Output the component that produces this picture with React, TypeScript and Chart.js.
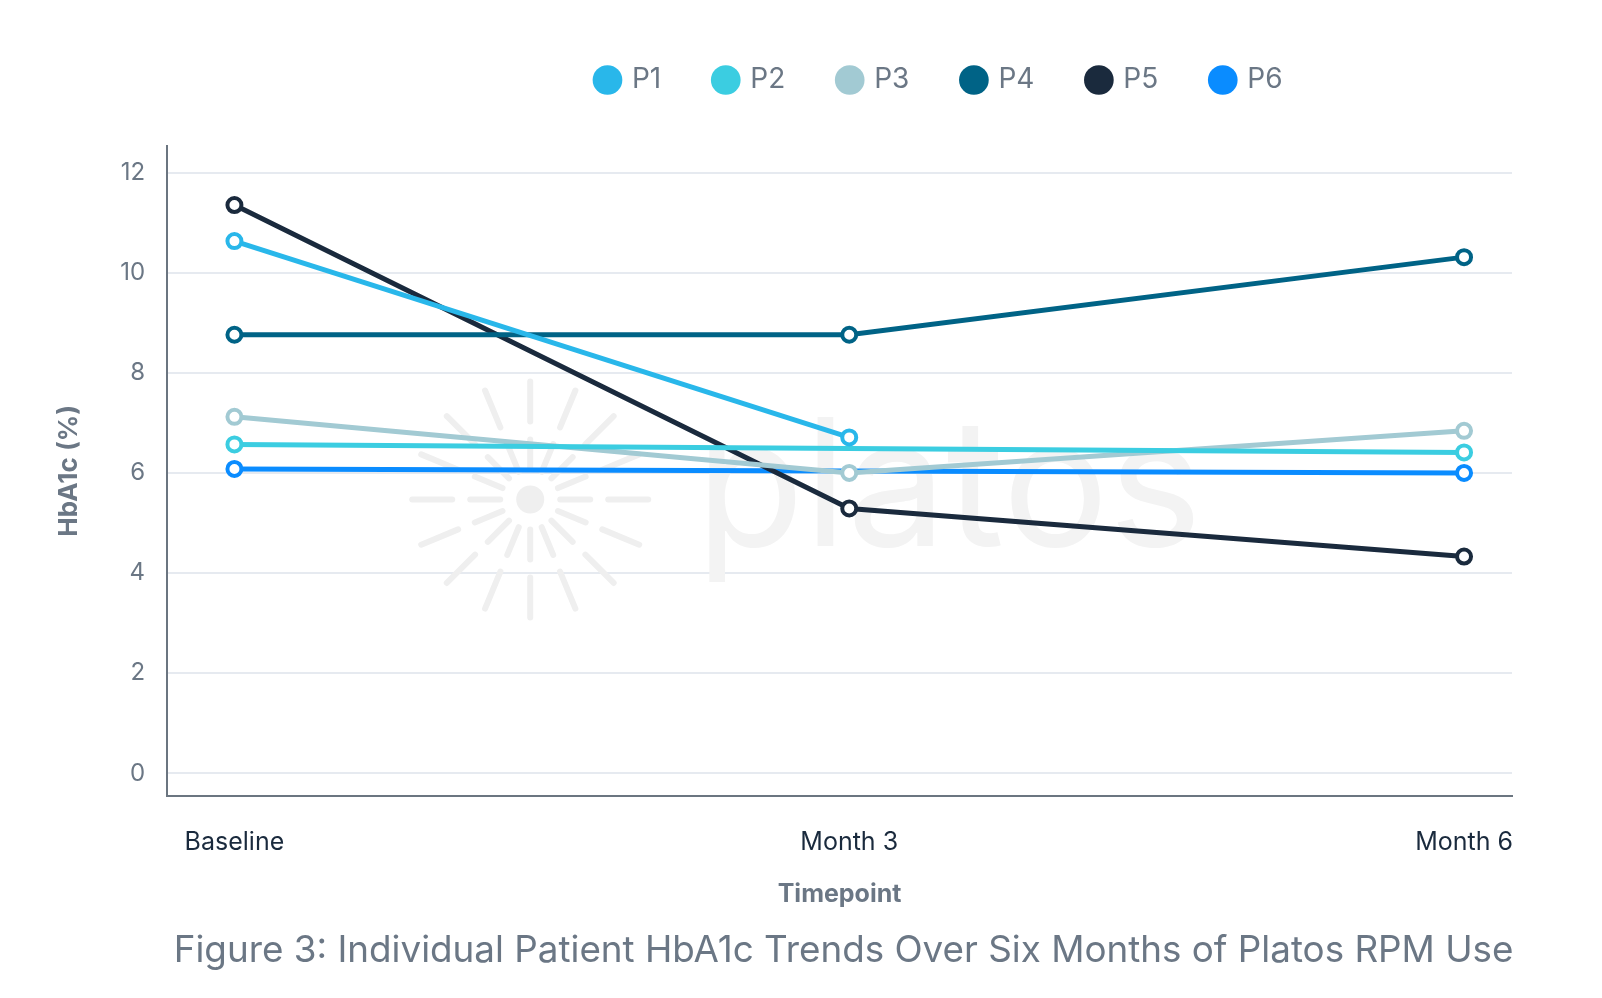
import React, { useEffect, useRef } from "react";
import { Chart, registerables } from "chart.js";

Chart.register(...registerables);

const timepoints = ["Baseline", "Month 3", "Month 6"];
const seriesNames = ["P1", "P2", "P3", "P4", "P5", "P6"];
const p1 = [10.63, 6.71, null];
const p2 = [6.57, null, 6.41];
const p3 = [7.12, 6.0, 6.84];
const p4 = [8.76, 8.76, 10.31];
const p5 = [11.35, 5.29, 4.33];
const p6 = [6.08, null, 6.0];
const seriesValues = [p1, p2, p3, p4, p5, p6];
const seriesColors = ["#29b7ea", "#3bcde1", "#a2cad3", "#006386", "#1a2a3d", "#0a8cff"];
const yTicks = [0, 2, 4, 6, 8, 10, 12];

const FONT = "Inter, 'Open Sans', sans-serif";
const GREY = "#6b7785";

const watermark = {
  id: "watermark",
  beforeDatasetsDraw(chart: any) {
    const { ctx, chartArea } = chart;
    const w = chartArea.right - chartArea.left;
    const h = chartArea.bottom - chartArea.top;
    const cx = chartArea.left + w * 0.27;
    const cy = chartArea.top + h * 0.544;
    ctx.save();
    ctx.strokeStyle = "#efefef";
    ctx.fillStyle = "#efefef";
    ctx.lineWidth = 6;
    ctx.lineCap = "round";
    for (let i = 0; i < 16; i++) {
      const a = (i / 16) * Math.PI * 2;
      const segs = [[30, 60], [78, 118]];
      for (const [r0, r1] of segs) {
        ctx.beginPath();
        ctx.moveTo(cx + Math.cos(a) * r0, cy + Math.sin(a) * r0);
        ctx.lineTo(cx + Math.cos(a) * r1, cy + Math.sin(a) * r1);
        ctx.stroke();
      }
    }
    ctx.beginPath();
    ctx.arc(cx, cy, 14, 0, Math.PI * 2);
    ctx.fill();
    ctx.fillStyle = "#f3f3f3";
    ctx.font = `177px ${FONT}`;
    ctx.textBaseline = "alphabetic";
    ctx.textAlign = "left";
    ctx.fillText("platos", chartArea.left + w * 0.393, chartArea.top + h * 0.615);
    ctx.restore();
  },
};

const shiftBoxes = {
  id: "shiftBoxes",
  afterLayout(chart: any) {
    const ca = chart.chartArea;
    const w = ca.right - ca.left;
    const lg = chart.legend;
    if (lg) {
      const dx = ca.left + w * 0.5745 - (lg.left + lg.right) / 2;
      lg.left += dx;
      lg.right += dx;
      const dy = ca.top - 134 - lg.top;
      lg.top += dy;
      lg.bottom += dy;
    }
    const tb = chart.titleBlock;
    if (tb) {
      const dx = ca.left + w * 0.503 - (tb.left + tb.right) / 2;
      tb.left += dx;
      tb.right += dx;
    }
  },
};

export default function App() {
  const ref = useRef<HTMLCanvasElement | null>(null);
  useEffect(() => {
    document.body.style.margin = "0";
    const canvas = ref.current;
    if (!canvas) return;
    const datasets = seriesNames.map((name, i) => ({
      label: name,
      data: seriesValues[i].map((v, j) => ({ x: j, y: v })),
      borderColor: seriesColors[i],
      backgroundColor: seriesColors[i],
      pointBackgroundColor: "#ffffff",
      pointBorderColor: seriesColors[i],
      pointRadius: 7,
      pointBorderWidth: 4,
      borderWidth: 5,
      spanGaps: true,
      tension: 0,
    }));
    const chart = new Chart(canvas, {
      type: "line",
      data: { datasets },
      plugins: [watermark, shiftBoxes],
      options: {
        animation: false,
        responsive: false,
        maintainAspectRatio: false,
        layout: { padding: { top: 54, right: 90, left: 54, bottom: 25 } },
        plugins: {
          tooltip: { enabled: false },
          legend: {
            position: "top",
            labels: {
              usePointStyle: true,
              pointStyle: "circle",
              boxWidth: 21,
              boxHeight: 21,
              padding: 54,
              color: GREY,
              font: { family: FONT, size: 28 },
              generateLabels(chart: any) {
                return chart.data.datasets.map((ds: any, i: number) => ({
                  text: ds.label,
                  fillStyle: seriesColors[i],
                  strokeStyle: seriesColors[i],
                  lineWidth: 0,
                  pointStyle: "circle",
                  fontColor: GREY,
                  datasetIndex: i,
                  hidden: false,
                }));
              },
            },
          },
          title: {
            display: true,
            position: "bottom",
            text: "Figure 3: Individual Patient HbA1c Trends Over Six Months of Platos RPM Use",
            color: GREY,
            font: { family: FONT, size: 36.8, weight: "normal" },
            padding: { top: 19, bottom: 0 },
          },
        },
        scales: {
          x: {
            type: "linear",
            min: -0.1095,
            max: 2.078,
            afterBuildTicks(axis: any) {
              axis.ticks = [0, 1, 2].map((v) => ({ value: v }));
            },
            ticks: {
              callback: (v: any) => timepoints[v as number] ?? "",
              color: "#1a2a3d",
              font: { family: FONT, size: 25 },
              padding: 32,
              maxRotation: 0,
              autoSkip: false,
            },
            grid: { display: false, drawTicks: false },
            border: { display: true, color: "#6b7580", width: 2 },
            title: {
              display: true,
              text: "Timepoint",
              color: GREY,
              font: { family: FONT, size: 25, weight: "bold" },
              padding: { top: -10, bottom: 0 },
            },
          },
          y: {
            type: "linear",
            min: -0.45,
            max: 12.53,
            afterBuildTicks(axis: any) {
              axis.ticks = yTicks.map((v) => ({ value: v }));
            },
            ticks: {
              color: GREY,
              font: { family: FONT, size: 24 },
              padding: 22,
            },
            grid: { color: "#e6eaf0", lineWidth: 2, drawTicks: false },
            border: { display: true, color: "#6b7580", width: 2 },
            title: {
              display: true,
              text: "HbA1c (%)",
              color: GREY,
              font: { family: FONT, size: 26, weight: "bold" },
              padding: { top: 0, bottom: 13 },
            },
          },
        },
      },
    } as any);
    return () => chart.destroy();
  }, []);
  return (
    <div style={{ width: 1602, height: 998, background: "#ffffff" }}>
      <canvas ref={ref} width={1602} height={998} style={{ width: 1602, height: 998, display: "block" }} />
    </div>
  );
}
